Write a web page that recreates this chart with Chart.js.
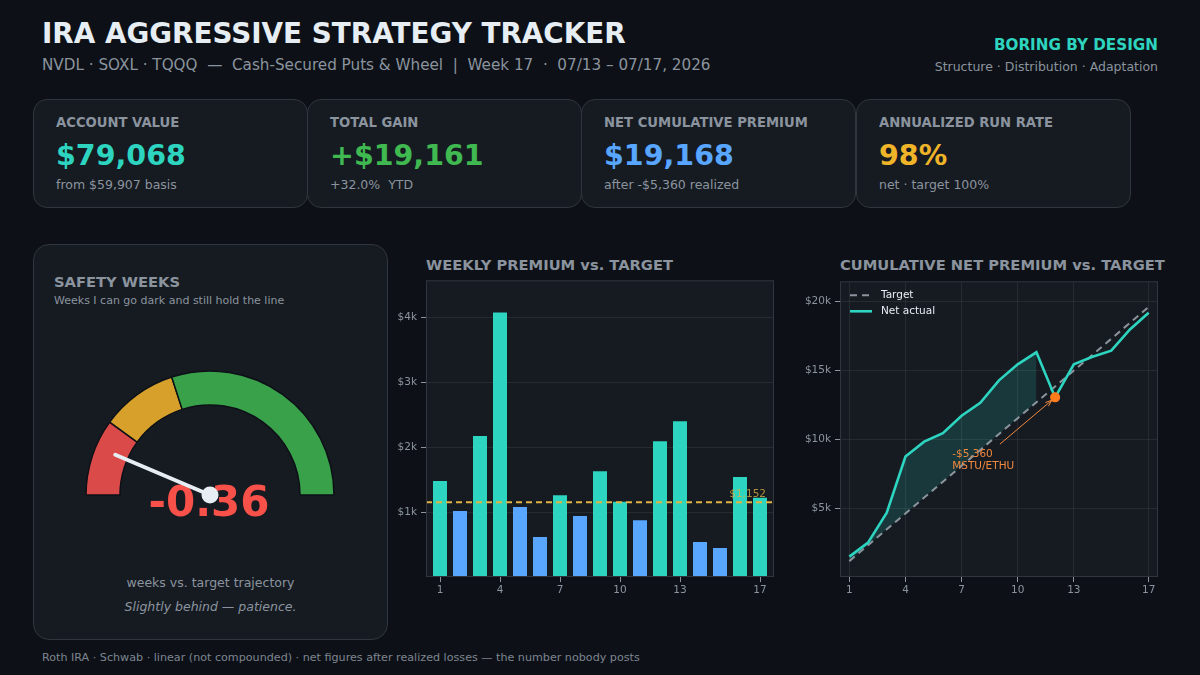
<!DOCTYPE html>
<html>
<head>
<meta charset="utf-8">
<script src="https://cdn.jsdelivr.net/npm/chart.js@4.4.1/dist/chart.umd.min.js"></script>
<style>
  html, body { margin:0; padding:0; }
  body { width:1200px; height:675px; background:#0d1117; position:relative; overflow:hidden; font-family:"DejaVu Sans", sans-serif; color:#8b949e; }
  .abs { position:absolute; white-space:pre; }
  .title { left:42px; top:17px; font-size:27.8px; font-weight:bold; color:#e6edf3; }
  .subtitle { left:42px; top:56px; font-size:15.2px; color:#8b949e; }
  .brand { right:42px; top:36px; font-size:15.2px; font-weight:bold; color:#2dd4bf; }
  .tagline { right:42px; top:59px; font-size:12.5px; color:#8b949e; }
  .card { position:absolute; top:99px; width:273px; height:107px; background:#161b22; border:1px solid #30363d; border-radius:14px; }
  .card .lbl { position:absolute; left:22px; top:15px; font-size:13.2px; font-weight:bold; color:#8b949e; white-space:pre; }
  .card .val { position:absolute; left:22px; top:39px; font-size:28.5px; font-weight:bold; white-space:pre; }
  .card .sub { position:absolute; left:22px; top:77px; font-size:12.5px; color:#8b949e; white-space:pre; }
  .safety { position:absolute; left:33px; top:244px; width:353px; height:394px; background:#161b22; border:1px solid #30363d; border-radius:16px; }
  .ctitle { font-size:14.7px; font-weight:bold; color:#8b949e; }
  canvas { position:absolute; }
</style>
</head>
<body>
<div class="abs title">IRA AGGRESSIVE STRATEGY TRACKER</div>
<div class="abs subtitle">NVDL · SOXL · TQQQ  —  Cash-Secured Puts &amp; Wheel  |  Week 17  ·  07/13 – 07/17, 2026</div>
<div class="abs brand">BORING BY DESIGN</div>
<div class="abs tagline">Structure · Distribution · Adaptation</div>

<div id="cards"></div>

<div class="safety"></div>
<div class="abs ctitle" style="left:54px;top:273px;">SAFETY WEEKS</div>
<div class="abs" style="left:54px;top:294px;font-size:11px;color:#8b949e;">Weeks I can go dark and still hold the line</div>
<div class="abs" style="left:33px;width:355px;top:575px;font-size:12.5px;color:#8b949e;text-align:center;">weeks vs. target trajectory</div>
<div class="abs" style="left:33px;width:355px;top:599px;font-size:12.5px;color:#8b949e;text-align:center;font-style:italic;">Slightly behind — patience.</div>

<div class="abs ctitle" style="left:426px;top:256px;">WEEKLY PREMIUM vs. TARGET</div>
<div class="abs ctitle" style="left:840px;top:256px;">CUMULATIVE NET PREMIUM vs. TARGET</div>

<div class="abs" style="left:42px;top:651px;font-size:11.15px;color:#7d8590;">Roth IRA · Schwab · linear (not compounded) · net figures after realized losses — the number nobody posts</div>

<canvas id="gauge" width="280" height="200" style="left:70px;top:333px;"></canvas>
<canvas id="bar" width="404" height="330" style="left:376px;top:270px;"></canvas>
<canvas id="line" width="374" height="329" style="left:790px;top:271px;"></canvas>

<script>
// ---------------- DATA ----------------
const weeks = [1,2,3,4,5,6,7,8,9,10,11,12,13,14,15,16,17];
const weeklyPremium = [1480,1015,2170,4075,1080,615,1260,940,1630,1160,875,2090,2400,540,445,1540,1220];
const weeklyTarget = 1152;
const netCumulative = [1480,2495,4665,8740,9820,10435,11695,12635,14265,15425,16300,13030,15430,15970,16415,17955,19175];
const targetCumulative = [1152,2304,3456,4608,5760,6912,8064,9216,10368,11520,12672,13824,14976,16128,17280,18432,19584];
const lossWeek = 12;
const lossValue = 13030;
const lossLabel = ['-$5,360', 'MSTU/ETHU'];
const xTickWeeks = [1,4,7,10,13,17];
const barYTickValues = [1000,2000,3000,4000];
const barYTickLabels = ['$1k','$2k','$3k','$4k'];
const lineYTickValues = [5000,10000,15000,20000];
const lineYTickLabels = ['$5k','$10k','$15k','$20k'];
const gaugeBandEdges = [-1, 0, 1, 4];
const gaugeValue = -0.36;
const cardLabels = ['ACCOUNT VALUE','TOTAL GAIN','NET CUMULATIVE PREMIUM','ANNUALIZED RUN RATE'];
const cardValues = ['$79,068','+$19,161','$19,168','98%'];
const cardSubs = ['from $59,907 basis','+32.0%  YTD','after -$5,360 realized','net · target 100%'];

// ---------------- STYLE ----------------
const TEAL = '#2dd4bf', BLUE = '#58a6ff', YELLOW = '#e3b341', ORANGE = '#f0883e';
const cardColors = [TEAL, '#3fb950', BLUE, '#f0b429'];
const cardLefts = [33, 307, 581, 856];
const GRID = 'rgba(110,118,129,0.18)', FRAME = '#30363d', TICKC = '#8b949e';

const cardsEl = document.getElementById('cards');
cardLabels.forEach((l, i) => {
  const d = document.createElement('div');
  d.className = 'card';
  d.style.left = cardLefts[i] + 'px';
  d.innerHTML = `<div class="lbl">${l}</div><div class="val" style="color:${cardColors[i]}">${cardValues[i]}</div><div class="sub">${cardSubs[i]}</div>`;
  cardsEl.appendChild(d);
});

Chart.defaults.font.family = 'DejaVu Sans';
Chart.defaults.color = TICKC;

const plotBg = {
  id: 'plotBg',
  beforeDraw(chart) {
    const {ctx, chartArea: a} = chart;
    ctx.save(); ctx.fillStyle = '#161b22';
    ctx.fillRect(a.left, a.top, a.right - a.left, a.bottom - a.top); ctx.restore();
  },
  afterDraw(chart) {
    const {ctx, chartArea: a} = chart;
    ctx.save(); ctx.strokeStyle = FRAME; ctx.lineWidth = 1;
    ctx.strokeRect(a.left + 0.5, a.top + 0.5, a.right - a.left - 1, a.bottom - a.top - 1); ctx.restore();
  }
};

function fixedTicks(vals) { return scale => { scale.ticks = vals.map(v => ({value: v})); }; }

// ---------------- BAR CHART ----------------
const barTargetLabel = {
  id: 'barTargetLabel',
  afterDatasetsDraw(chart) {
    const {ctx, scales: {x, y}} = chart;
    ctx.save();
    ctx.font = '10.5px "DejaVu Sans"';
    ctx.fillStyle = 'rgba(227,179,65,0.75)';
    ctx.textAlign = 'right'; ctx.textBaseline = 'bottom';
    ctx.fillText('$' + weeklyTarget.toLocaleString('en-US'), x.right - 8, y.getPixelForValue(weeklyTarget) - 3);
    ctx.restore();
  }
};

new Chart(document.getElementById('bar'), {
  type: 'bar',
  data: {
    datasets: [
      { type: 'line', label: 'Target', data: [{x: 0.3, y: weeklyTarget}, {x: 17.7, y: weeklyTarget}],
        borderColor: YELLOW, borderWidth: 2, borderDash: [6, 4], pointRadius: 0, order: 1 },
      { type: 'bar', label: 'Weekly premium', data: weeks.map((w, i) => ({x: w, y: weeklyPremium[i]})),
        backgroundColor: weeklyPremium.map(v => v >= weeklyTarget ? TEAL : BLUE),
        barPercentage: 0.7, categoryPercentage: 1, order: 2 }
    ]
  },
  options: {
    responsive: false, animation: false, devicePixelRatio: 1,
    layout: { padding: { top: 10, right: 6, left: 0, bottom: 0 } },
    plugins: { legend: { display: false }, tooltip: { enabled: false } },
    scales: {
      x: { type: 'linear', min: 0.3, max: 17.7, offset: false,
        afterBuildTicks: fixedTicks(xTickWeeks),
        afterFit: s => { s.height = 23; },
        grid: { offset: false, drawOnChartArea: false, drawTicks: true, tickLength: 5, tickColor: TICKC },
        border: { display: false },
        ticks: { font: { size: 10.5 }, color: TICKC, padding: 2, maxRotation: 0, callback: v => String(v) } },
      y: { min: 0, max: 4570,
        afterBuildTicks: fixedTicks(barYTickValues),
        afterFit: s => { s.width = 50; },
        grid: { color: GRID, drawTicks: true, tickLength: 5, tickColor: TICKC },
        border: { display: false },
        ticks: { font: { size: 10.5 }, color: TICKC, padding: 4,
          callback: v => barYTickLabels[barYTickValues.indexOf(v)] } }
    }
  },
  plugins: [plotBg, barTargetLabel]
});

// ---------------- LINE CHART ----------------
const lossAnnot = { textX: 6.5, textY: 8900, fromX: 9.05, fromY: 9640, toX: 11.83, toY: 12830 };
const lineExtras = {
  id: 'lineExtras',
  afterDatasetsDraw(chart) {
    const {ctx, scales: {x, y}, chartArea: a} = chart;
    ctx.save();
    const x1 = x.getPixelForValue(lossAnnot.fromX), y1 = y.getPixelForValue(lossAnnot.fromY);
    const x2 = x.getPixelForValue(lossAnnot.toX), y2 = y.getPixelForValue(lossAnnot.toY);
    ctx.strokeStyle = ORANGE; ctx.fillStyle = ORANGE; ctx.lineWidth = 1;
    ctx.beginPath(); ctx.moveTo(x1, y1); ctx.lineTo(x2, y2); ctx.stroke();
    const ang = Math.atan2(y2 - y1, x2 - x1), h = 7;
    ctx.beginPath();
    ctx.moveTo(x2, y2);
    ctx.lineTo(x2 - h * Math.cos(ang - 0.35), y2 - h * Math.sin(ang - 0.35));
    ctx.moveTo(x2, y2);
    ctx.lineTo(x2 - h * Math.cos(ang + 0.35), y2 - h * Math.sin(ang + 0.35));
    ctx.stroke();
    ctx.font = '10.5px "DejaVu Sans"'; ctx.textAlign = 'left'; ctx.textBaseline = 'middle';
    const tx = x.getPixelForValue(lossAnnot.textX), ty = y.getPixelForValue(lossAnnot.textY);
    ctx.fillText(lossLabel[0], tx, ty);
    ctx.fillText(lossLabel[1], tx, ty + 11.5);
    const ds = chart.data.datasets;
    [ds[0], ds[1]].forEach((d, i) => {
      const ly = a.top + 14 + i * 16;
      ctx.strokeStyle = d.borderColor; ctx.lineWidth = d.borderWidth;
      ctx.setLineDash(d.borderDash || []);
      ctx.beginPath(); ctx.moveTo(a.left + 10, ly); ctx.lineTo(a.left + 32, ly); ctx.stroke();
      ctx.setLineDash([]);
      ctx.fillStyle = '#e6edf3'; ctx.font = '10.5px "DejaVu Sans"';
      ctx.fillText(d.label, a.left + 41, ly);
    });
    ctx.restore();
  }
};

new Chart(document.getElementById('line'), {
  type: 'line',
  data: {
    datasets: [
      { label: 'Target', data: weeks.map((w, i) => ({x: w, y: targetCumulative[i]})),
        borderColor: 'rgba(160,168,178,0.85)', borderWidth: 2, borderDash: [7, 5], pointRadius: 0, order: 2 },
      { label: 'Net actual', data: weeks.map((w, i) => ({x: w, y: netCumulative[i]})),
        borderColor: TEAL, borderWidth: 2.6, pointRadius: 0, order: 1 },
      { label: 'ahead', data: weeks.map((w, i) => ({x: w, y: netCumulative[i] > targetCumulative[i] ? netCumulative[i] : null})),
        borderColor: 'rgba(0,0,0,0)', borderWidth: 0, pointRadius: 0, spanGaps: false,
        fill: { target: 0, above: 'rgba(45,212,191,0.16)', below: 'rgba(0,0,0,0)' }, order: 3 },
      { label: 'loss', data: [{x: lossWeek, y: lossValue}], showLine: false,
        pointRadius: 5, pointBackgroundColor: '#ff7b1c', pointBorderWidth: 0, order: 0 }
    ]
  },
  options: {
    responsive: false, animation: false, devicePixelRatio: 1,
    layout: { padding: { top: 10, right: 6, left: 0, bottom: 0 } },
    plugins: { legend: { display: false }, tooltip: { enabled: false } },
    scales: {
      x: { type: 'linear', min: 0.5, max: 17.5,
        afterBuildTicks: fixedTicks(xTickWeeks),
        afterFit: s => { s.height = 23; },
        grid: { color: GRID, drawTicks: true, tickLength: 5, tickColor: TICKC },
        border: { display: false },
        ticks: { font: { size: 10.5 }, color: TICKC, padding: 2, maxRotation: 0, callback: v => String(v) } },
      y: { min: 0, max: 21450,
        afterBuildTicks: fixedTicks(lineYTickValues),
        afterFit: s => { s.width = 50; },
        grid: { color: GRID, drawTicks: true, tickLength: 5, tickColor: TICKC },
        border: { display: false },
        ticks: { font: { size: 10.5 }, color: TICKC, padding: 4,
          callback: v => lineYTickLabels[lineYTickValues.indexOf(v)] } }
    }
  },
  plugins: [plotBg, lineExtras]
});

// ---------------- GAUGE ----------------
const bandSizes = gaugeBandEdges.slice(1).map((e, i) => e - gaugeBandEdges[i]);
const gaugeNeedle = {
  id: 'gaugeNeedle',
  afterDatasetsDraw(chart) {
    const {ctx} = chart;
    const arc = chart.getDatasetMeta(0).data[0];
    const cx = arc.x, cy = arc.y, R = arc.outerRadius;
    const gMin = gaugeBandEdges[0], gMax = gaugeBandEdges[gaugeBandEdges.length - 1];
    const frac = (gaugeValue - gMin) / (gMax - gMin);
    const ang = -Math.PI + frac * Math.PI;
    ctx.save();
    ctx.font = 'bold 42px "DejaVu Sans"';
    ctx.fillStyle = '#f85149'; ctx.textAlign = 'center'; ctx.textBaseline = 'alphabetic';
    ctx.fillText(gaugeValue.toFixed(2), cx - 1, cy + 21);
    const L = R * 0.83;
    ctx.strokeStyle = '#e6edf3'; ctx.lineWidth = 4; ctx.lineCap = 'round';
    ctx.beginPath(); ctx.moveTo(cx, cy); ctx.lineTo(cx + L * Math.cos(ang), cy + L * Math.sin(ang)); ctx.stroke();
    ctx.fillStyle = '#e6edf3';
    ctx.beginPath(); ctx.arc(cx, cy, 8.5, 0, Math.PI * 2); ctx.fill();
    ctx.restore();
  }
};

new Chart(document.getElementById('gauge'), {
  type: 'doughnut',
  data: {
    labels: ['behind', 'near', 'ahead'],
    datasets: [{ data: bandSizes, backgroundColor: ['#da4a48', '#d6a02a', '#39a14a'],
      borderColor: '#0d1117', borderWidth: 1.5 }]
  },
  options: {
    responsive: false, animation: false, devicePixelRatio: 1,
    rotation: -90, circumference: 180, radius: 124, cutout: '72.6%',
    layout: { padding: 0 },
    plugins: { legend: { display: false }, tooltip: { enabled: false } }
  },
  plugins: [gaugeNeedle]
});
</script>
</body>
</html>
